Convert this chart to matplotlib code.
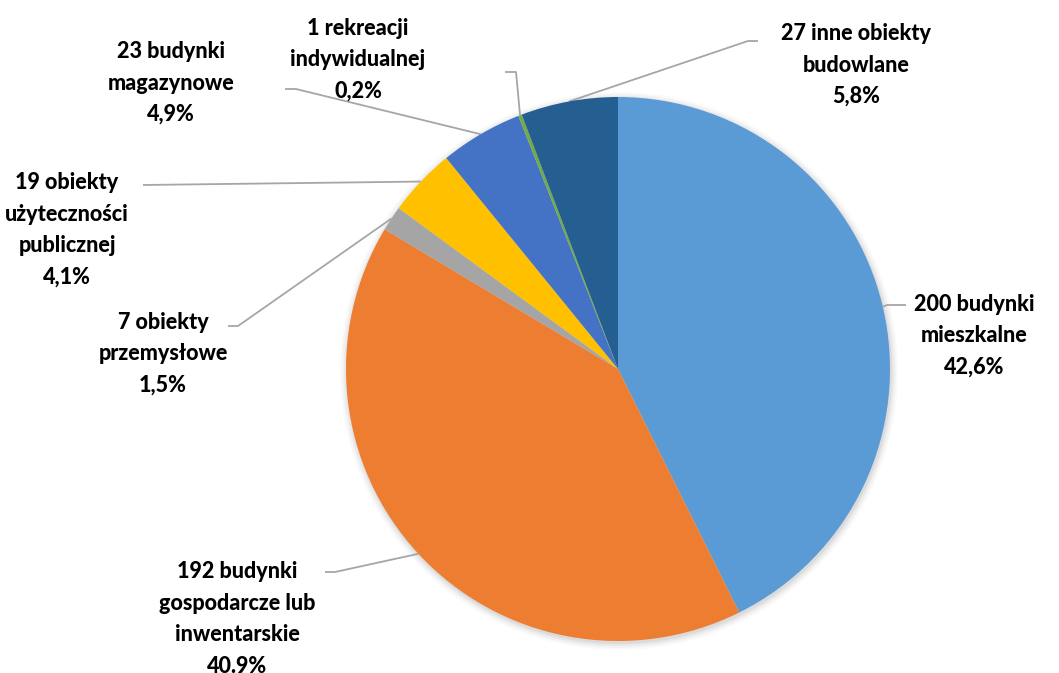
import matplotlib
matplotlib.use("Agg")
import matplotlib.pyplot as plt
import numpy as np

# data
labels = ["200 budynki\nmieszkalne", "192 budynki\ngospodarcze lub\ninwentarskie",
          "7 obiekty\nprzemysłowe", "19 obiekty\nużyteczności\npublicznej",
          "23 budynki\nmagazynowe", "1 rekreacji\nindywidualnej",
          "27 inne obiekty\nbudowlane"]
counts = [200, 192, 7, 19, 23, 1, 27]
pcts = ["42,6%", "40.9%", "1,5%", "4,1%", "4,9%", "0,2%", "5,8%"]
colors = ["#5B9BD5", "#ED7D31", "#A5A5A5", "#FFC000", "#4472C4", "#70AD47", "#255E91"]

W, H = 1059, 673
CX, CY, R = 618, 369, 272

# label layout (pixel coords, y from top): text centre, elbow, text-side end of leader
text_pos = [(974, 336), (237, 619), (163, 354), (67, 230), (171, 83), (358, 60), (856, 65)]
elbows = [(887, 305), (335, 572), (238, 326), (143, 185), (296, 89), (516, 72), (748, 41)]
ends = [(906, 305), (325, 572), (228, 326), (143, 185), (285, 89), (505, 72), (758, 41)]

plt.rcParams['font.family'] = ['Lato', 'DejaVu Sans']

fig = plt.figure(figsize=(W / 100, H / 100), dpi=100)
ax = fig.add_axes([0, 0, 1, 1])

wedges, _ = ax.pie(counts, colors=colors, startangle=90, counterclock=False,
                   center=(CX, H - CY), radius=R, wedgeprops=dict(linewidth=0))
for w in wedges:
    w.set_zorder(2)

ax.set_xlim(0, W)
ax.set_ylim(0, H)
ax.set_aspect('equal')
ax.axis('off')

# soft shadow
for i, a in enumerate([0.05, 0.04, 0.03, 0.02]):
    ax.add_patch(plt.Circle((CX + 1, H - CY - 2), R + 1 + i * 2, color='black', alpha=a, lw=0, zorder=0))

for i, w in enumerate(wedges):
    ang = np.deg2rad((w.theta1 + w.theta2) / 2)
    sx = CX + R * np.cos(ang)
    sy = H - CY + R * np.sin(ang)
    ex, ey = elbows[i]
    tx, ty = ends[i]
    ax.plot([sx, ex, tx], [sy, H - ey, H - ty], color='#A6A6A6', lw=1.3, zorder=1,
            solid_capstyle='butt')
    x, y = text_pos[i]
    ax.text(x, H - y, labels[i] + "\n" + pcts[i], ha='center', va='center',
            fontsize=15.5, fontweight='black', color='black', linespacing=1.62, zorder=3)

fig.savefig("out.png", dpi=100)
